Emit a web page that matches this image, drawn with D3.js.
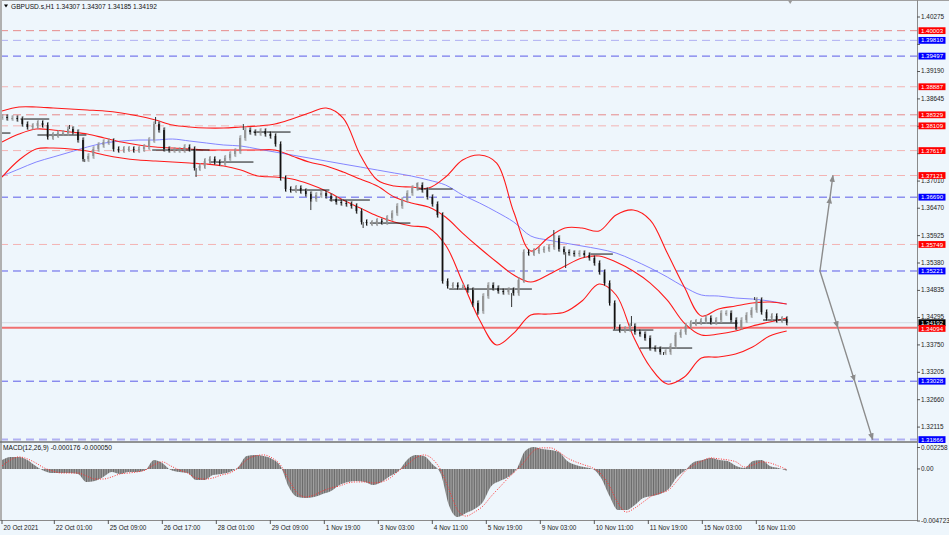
<!DOCTYPE html>
<html><head><meta charset="utf-8">
<script src="https://cdn.jsdelivr.net/npm/d3@7"></script>
<style>
html,body{margin:0;padding:0;background:#eef6fc;overflow:hidden;}
svg{display:block;font-family:"Liberation Sans",Arial,sans-serif;}
</style></head><body>
<svg id="c" width="949" height="535"></svg>
<script>
// ---------------- data ----------------
const symbolTitle = "GBPUSD.s,H1";
const headerOHLC = ["1.34307", "1.34307", "1.34185", "1.34192"];
const lastBar = 465;
const closeStep = 3; // one close every 3 hourly bars
const closes = [1.38285,1.38265,1.38265,1.38245,1.38145,1.38086,1.38106,1.38165,1.38126,1.37887,
 1.37927,1.37966,1.37966,1.38046,1.37986,1.37827,1.37449,1.37509,1.37648,1.37728,
 1.37787,1.37807,1.37648,1.37628,1.37648,1.37648,1.37628,1.37648,1.37688,1.37827,
 1.38145,1.38026,1.37648,1.37628,1.37628,1.37628,1.37688,1.37648,1.37270,1.37310,
 1.37409,1.37449,1.37389,1.37369,1.37469,1.37548,1.37608,1.37867,1.38026,1.37986,
 1.37966,1.38006,1.37946,1.37907,1.37747,1.37071,1.36852,1.36832,1.36872,1.36812,
 1.36752,1.36653,1.36733,1.36772,1.36713,1.36653,1.36593,1.36573,1.36553,1.36514,
 1.36414,1.36195,1.36175,1.36175,1.36215,1.36195,1.36275,1.36374,1.36514,1.36633,
 1.36772,1.36872,1.36932,1.36832,1.36693,1.36553,1.36335,1.35021,1.34922,1.34942,
 1.34902,1.34902,1.34842,1.34583,1.34424,1.34723,1.34942,1.34882,1.34822,1.34802,
 1.34842,1.34782,1.35041,1.35598,1.35578,1.35618,1.35638,1.35658,1.35698,1.35877,
 1.35658,1.35598,1.35578,1.35558,1.35578,1.35539,1.35479,1.35379,1.35200,1.34981,
 1.34583,1.34106,1.34046,1.34066,1.34126,1.34006,1.33966,1.33887,1.33688,1.33668,
 1.33608,1.33608,1.33728,1.33947,1.34006,1.34126,1.34185,1.34205,1.34225,1.34285,
 1.34205,1.34245,1.34384,1.34384,1.34245,1.34106,1.34245,1.34345,1.34444,1.34643,
 1.34404,1.34285,1.34325,1.34245,1.34265,1.34192];
// notable wicks: [bar, price]
const wicks = [[40,1.38126],[49,1.37389],[91,1.38285],[115,1.37091],[143,1.38145],[183,1.36434],
 [214,1.36076],[246,1.36971],[279,1.34504],[282,1.34345],[302,1.34504],[327,1.36036],[334,1.35280],
 [373,1.34325],[392,1.33549],[435,1.34046],[446,1.34703]];
// daily open segments: [fromBar, toBar, price]
const dayLines = [[0,5,1.37966],[11,28,1.38245],[21,50,1.37927],[89,123,1.37628],[123,149,1.37389],
 [149,171,1.37986],[171,194,1.36832],[194,218,1.36633],[218,242,1.36175],[246,267,1.36852],
 [265,314,1.34862],[348,362,1.35558],[362,386,1.34046],[378,409,1.33688],[409,436,1.34185],[451,465,1.34245]];
// Bollinger bands & MA, 47 points evenly spread over bars 0..465
const bbUpper = [1.38404,1.38484,1.38484,1.38464,1.38444,1.38424,1.38404,1.38364,1.38305,1.38225,
 1.38126,1.38086,1.38066,1.38066,1.38086,1.38106,1.38145,1.38245,1.38364,1.38464,
 1.38265,1.37529,1.37031,1.36912,1.36892,1.36872,1.37091,1.37429,1.37529,1.37369,
 1.36394,1.35618,1.35877,1.36076,1.36076,1.36016,1.36335,1.36434,1.36235,1.35578,
 1.34902,1.34325,1.34464,1.34524,1.34583,1.34603,1.34563];
const bbMiddle = [1.37787,1.37946,1.38046,1.38026,1.37986,1.37946,1.37867,1.37787,1.37728,1.37688,
 1.37668,1.37648,1.37628,1.37628,1.37628,1.37628,1.37628,1.37509,1.37389,1.37310,
 1.37190,1.37051,1.36912,1.36693,1.36573,1.36494,1.36295,1.35976,1.35678,1.35399,
 1.35141,1.35001,1.35141,1.35320,1.35479,1.35519,1.35399,1.35220,1.34981,1.34643,
 1.34185,1.33947,1.33966,1.34026,1.34126,1.34205,1.34285];
const bbLower = [1.37091,1.37429,1.37648,1.37668,1.37648,1.37608,1.37529,1.37469,1.37429,1.37409,
 1.37389,1.37369,1.37349,1.37310,1.37230,1.37111,1.37091,1.37051,1.36951,1.36812,
 1.36633,1.36474,1.36315,1.36195,1.36116,1.36076,1.35738,1.35001,1.34245,1.33748,
 1.33986,1.34345,1.34364,1.34404,1.34623,1.34961,1.34743,1.33927,1.33310,1.32971,
 1.33111,1.33489,1.33509,1.33568,1.33708,1.33927,1.34026];
const maLine = [1.37111,1.37250,1.37389,1.37489,1.37588,1.37688,1.37767,1.37807,1.37827,1.37827,
 1.37847,1.37807,1.37767,1.37728,1.37708,1.37648,1.37588,1.37529,1.37469,1.37409,
 1.37349,1.37290,1.37230,1.37170,1.37111,1.37031,1.36932,1.36733,1.36573,1.36394,
 1.36195,1.35917,1.35837,1.35777,1.35718,1.35658,1.35578,1.35439,1.35280,1.35101,
 1.34902,1.34743,1.34723,1.34683,1.34663,1.34623,1.34563];
// MACD, one value every 5 bars
const macdStep = 5;
const macdMain = [0.00087,0.00116,0.00116,0.00087,0.00029,-0.00019,-0.00039,-0.00039,-0.00039,-0.00048,
 -0.00125,-0.00116,-0.00077,-0.00029,-0.00048,-0.00029,-0.00029,-0.0001,0.00087,0.00058,
 -0.0001,-0.00029,-0.00039,-0.00106,-0.00106,-0.00058,-0.00048,-0.00029,0.00019,0.00125,
 0.00135,0.00125,0.00097,0.00029,-0.00174,-0.0027,-0.0028,-0.0027,-0.00241,-0.00212,
 -0.00154,-0.00125,-0.00116,-0.00125,-0.00154,-0.00125,-0.00068,-0.00019,0.00087,0.00135,
 0.00125,0.00048,-0.00048,-0.00357,-0.00463,-0.00425,-0.00386,-0.00318,-0.00164,-0.00116,
 -0.00077,0,0.00174,0.00212,0.00193,0.00183,0.00164,0.00077,0.00039,0.00019,
 0,-0.00087,-0.00261,-0.00396,-0.00396,-0.00347,-0.0028,-0.00261,-0.00241,-0.00193,
 -0.00077,-0.0001,0.00068,0.00087,0.00106,0.00087,0.00077,0.00029,0.0001,0.00077,
 0.00087,0.00029,0.0001,-0.000176];
const macdSignal = [0.00029,0.00087,0.00116,0.00097,0.00058,0.0001,-0.00019,-0.00039,-0.00039,-0.00039,
 -0.00068,-0.00097,-0.00097,-0.00077,-0.00048,-0.00039,-0.00029,-0.0001,0.00039,0.00068,
 0.00029,-0.0001,-0.00039,-0.00087,-0.00097,-0.00087,-0.00058,-0.00039,0.0001,0.00087,
 0.00125,0.00135,0.00106,0.00039,-0.00106,-0.00232,-0.0027,-0.00251,-0.00212,-0.00183,
 -0.00164,-0.00135,-0.00125,-0.00125,-0.00135,-0.00125,-0.00087,-0.00019,0.00039,0.00106,
 0.00135,0.00097,-0.0001,-0.00203,-0.00396,-0.00454,-0.00415,-0.00357,-0.00261,-0.00174,
 -0.00087,-0.0001,0.00077,0.00174,0.00203,0.00203,0.00164,0.00106,0.00068,0.00039,
 0.0001,-0.00048,-0.00164,-0.00328,-0.00415,-0.00376,-0.00318,-0.00261,-0.00232,-0.00203,
 -0.00116,-0.00019,0.00039,0.00077,0.00106,0.00097,0.00087,0.00068,0.00019,0.00039,
 0.00068,0.00058,0.00029,-0.00005];
const macdLabel = "MACD(12,26,9) -0.000176 -0.000050";
// horizontal levels
const levelPrices = [1.40003,1.39810,1.39497,1.38887,1.38329,1.38109,1.37617,1.37121,1.36690,1.35749,1.35221,1.34094,1.33028,1.31866];
const levelSide   = ["r","b","b","r","r","r","r","r","b","r","b","r","b","b"];
const bidPrice = 1.34192;
// axis ticks (labels hidden behind level tags are left out)
const priceTicks = [1.40275,1.39730,1.39190,1.38645,1.38100,1.37555,1.37010,1.36470,1.35925,1.35380,1.34835,1.34295,1.33750,1.33205,1.32660,1.32115];
const hiddenTickLabels = [1.39730,1.38100,1.37555];
const macdTicks = [0.002258, 0, -0.004723];
const macdTickLabels = ["0.002258","0.00","-0.004723"];
const timeTickBars = [0,31,63,95,127,159,191,223,255,287,319,351,383,415,447];
const timeTickLabels = ["20 Oct 2021","22 Oct 01:00","25 Oct 09:00","26 Oct 17:00","28 Oct 01:00","29 Oct 09:00","1 Nov 19:00","3 Nov 03:00","4 Nov 11:00","5 Nov 19:00","9 Nov 03:00","10 Nov 11:00","11 Nov 19:00","15 Nov 03:00","16 Nov 11:00"];
// projection arrows: vertices [bar, price]
const arrowPaths = [
  [[484.7,1.35221],[490.7,1.36690],[492.4,1.37121]],
  [[484.7,1.35221],[495.3,1.34094],[505.3,1.33028],[516,1.31866]]
];

// ---------------- drawing ----------------
const svg = d3.select("#c");
const plotRight = 917, mainTop = 2, mainBottom = 441, macdTop = 443, macdBottom = 520;
const x = d3.scaleLinear().domain([0, lastBar]).range([2, 2 + lastBar * 1.6875]);
const y = d3.scaleLinear().domain([1.31866, 1.40275]).range([439.6, 17]);
const ym = d3.scaleLinear().domain([-0.004723, 0.002258]).range([518, 445.5]);

svg.append("rect").attr("width",949).attr("height",535).attr("fill","#eef6fc");
const defs = svg.append("defs");
defs.append("clipPath").attr("id","mainClip").append("rect").attr("x",0).attr("y",mainTop).attr("width",plotRight).attr("height",mainBottom-mainTop);
defs.append("clipPath").attr("id","macdClip").append("rect").attr("x",0).attr("y",macdTop).attr("width",plotRight).attr("height",macdBottom-macdTop);
const pat = defs.append("pattern").attr("id","hist").attr("patternUnits","userSpaceOnUse").attr("width",1.6875).attr("height",10);
pat.append("rect").attr("width",1.6875).attr("height",10).attr("fill","#b0b0b0");
pat.append("rect").attr("width",1).attr("height",10).attr("fill","#6a6a6a");

const main = svg.append("g").attr("clip-path","url(#mainClip)");

// levels
const levelTone = (p,i) => {
  if (p === 1.34094) return "#f07070";
  if (levelSide[i] === "r") return (p === 1.38329 || p === 1.40003) ? "#e68a8a" : "#f3b3b3";
  if (p === 1.39810 || p === 1.31866) return "#b0b0f2";
  return "#5c5ce8";
};
main.append("line").attr("x1",0).attr("x2",plotRight).attr("y1",y(bidPrice)).attr("y2",y(bidPrice))
  .attr("stroke","#d4dbe2").attr("stroke-width",1);
levelPrices.forEach((p,i)=>{
  const solid = p === 1.34094;
  main.append("line").attr("x1",0).attr("x2",plotRight).attr("y1",y(p)).attr("y2",y(p))
    .attr("stroke",levelTone(p,i)).attr("stroke-width", solid ? 2 : (p===1.31866?2:1))
    .attr("stroke-dasharray", solid ? null : "8,5");
});

// bands and MA
const bandX = j => x(j * lastBar / (bbUpper.length - 1));
const bandLine = d3.line().x((d,j)=>bandX(j)).y(d=>y(d)).curve(d3.curveCatmullRom.alpha(0.5));
main.append("path").attr("d",bandLine(maLine)).attr("fill","none").attr("stroke","#7878ff").attr("stroke-width",0.9);
[bbUpper,bbMiddle,bbLower].forEach(a=>{
  main.append("path").attr("d",bandLine(a)).attr("fill","none").attr("stroke","#ff1a1a").attr("stroke-width",1.1);
});

// day lines
main.selectAll(".day").data(dayLines).join("line")
  .attr("x1",d=>x(d[0])).attr("x2",d=>x(d[1])).attr("y1",d=>y(d[2])).attr("y2",d=>y(d[2]))
  .attr("stroke","#111").attr("stroke-width",1);

// wicks
main.selectAll(".wk").data(wicks).join("line")
  .attr("x1",d=>x(d[0])).attr("x2",d=>x(d[0]))
  .attr("y1",d=>y(closes[Math.min(closes.length-1,Math.round(d[0]/closeStep))]))
  .attr("y2",d=>y(d[1])).attr("stroke","#333").attr("stroke-width",1);

// candles
closes.forEach((c,k)=>{
  const o = k ? closes[k-1] : c;
  const cx = x(k*closeStep);
  const top = y(Math.max(o,c)), bot = y(Math.min(o,c));
  const up = c >= o;
  const col = up ? "#8f8f8f" : "#111";
  main.append("line").attr("x1",cx+0.9).attr("x2",cx+0.9).attr("y1",top-3).attr("y2",bot+3).attr("stroke","#9a9a9a").attr("stroke-width",0.8);
  main.append("line").attr("x1",cx).attr("x2",cx).attr("y1",top-2.5).attr("y2",bot+2.5).attr("stroke",col).attr("stroke-width",1);
  main.append("rect").attr("x",cx-0.8).attr("width",1.6).attr("y",top).attr("height",Math.max(1,bot-top)).attr("fill",col);
});

// arrows
const mk = defs.append("marker").attr("id","ah").attr("viewBox","0 0 10 10").attr("refX",9).attr("refY",5)
  .attr("markerWidth",5).attr("markerHeight",5).attr("orient","auto");
mk.append("path").attr("d","M0,1 L10,5 L0,9 Z").attr("fill","#8c8c8c");
const arrowLine = d3.line().x(d=>x(d[0])).y(d=>y(d[1]));
svg.selectAll(".arr").data(arrowPaths).join("path")
  .attr("d",d=>arrowLine(d)).attr("fill","none")
  .attr("stroke","#8c8c8c").attr("stroke-width",1.4)
  .attr("marker-mid","url(#ah)").attr("marker-end","url(#ah)");

// MACD panel
const mg = svg.append("g").attr("clip-path","url(#macdClip)");
const mX = i => x(i*macdStep);
mg.append("path").attr("d", d3.area().x((d,i)=>mX(i)).y0(ym(0)).y1(d=>ym(d)).curve(d3.curveMonotoneX)(macdMain))
  .attr("fill","url(#hist)");
mg.append("path").attr("d", d3.line().x((d,i)=>mX(i)).y(d=>ym(d)).curve(d3.curveMonotoneX)(macdSignal))
  .attr("fill","none").attr("stroke","#ff3030").attr("stroke-width",1).attr("stroke-dasharray","1,1.5");

// frames
svg.append("rect").attr("x",0).attr("y",0).attr("width",949).attr("height",1).attr("fill","#a0a0a0");
svg.append("rect").attr("x",0).attr("y",0).attr("width",2).attr("height",macdBottom).attr("fill","#b0b0b0");
svg.append("line").attr("x1",plotRight+0.5).attr("x2",plotRight+0.5).attr("y1",0).attr("y2",macdBottom).attr("stroke","#8a8a8a");
svg.append("line").attr("x1",0).attr("x2",plotRight).attr("y1",442).attr("y2",442).attr("stroke","#707070").attr("stroke-width",1.6);
svg.append("line").attr("x1",0).attr("x2",plotRight+1).attr("y1",macdBottom+0.5).attr("y2",macdBottom+0.5).attr("stroke","#8a8a8a");
// chart shift marker
svg.append("path").attr("d",`M${x(lastBar)+1},0 L${x(lastBar)+6},0 L${x(lastBar)+3.5},4 Z`).attr("fill","#9a9a9a");

// header
svg.append("path").attr("d","M4,4.5 L8,4.5 L6,7.5 Z").attr("fill","#000");
svg.append("text").attr("x",11).attr("y",9).attr("font-size",6.6).attr("fill","#111")
  .text(symbolTitle + "  " + headerOHLC.join(" "));
svg.append("text").attr("x",3).attr("y",450).attr("font-size",6.6).attr("fill","#111").text(macdLabel);

// price axis
const ax = svg.append("g").attr("font-size",6.4).attr("fill","#222");
priceTicks.forEach(p=>{
  ax.append("line").attr("x1",plotRight).attr("x2",plotRight+3).attr("y1",y(p)).attr("y2",y(p)).attr("stroke","#555");
  if (!hiddenTickLabels.includes(p)) ax.append("text").attr("x",921).attr("y",y(p)+1.9).text(p.toFixed(5));
});
macdTicks.forEach((v,i)=>{
  const yy = ym(v) + (i===0?2:(i===2?3:0));
  ax.append("line").attr("x1",plotRight).attr("x2",plotRight+3).attr("y1",yy).attr("y2",yy).attr("stroke","#555");
  ax.append("text").attr("x",921).attr("y",yy+2.3).text(macdTickLabels[i]);
});
// price tags
const lab = (p, fill, dy) => {
  const yy = y(p) + dy;
  ax.append("rect").attr("x",918.5).attr("y",yy-3.4).attr("width",27).attr("height",6.8).attr("fill",fill);
  ax.append("text").attr("x",921).attr("y",yy+2.1).attr("fill","#fff").attr("font-size",6.1).text(p.toFixed(5));
};
lab(bidPrice,"#000",0);
levelPrices.forEach((p,i)=>lab(p, levelSide[i]==="r" ? "#ff0000" : "#0000ff", p===1.34094 ? 0.8 : 0));

// time axis
const tx = svg.append("g").attr("font-size",6.4).attr("fill","#222");
timeTickBars.forEach((b,i)=>{
  tx.append("line").attr("x1",x(b)).attr("x2",x(b)).attr("y1",macdBottom).attr("y2",macdBottom+4).attr("stroke","#555");
  tx.append("text").attr("x",x(b)+1.5).attr("y",530).text(timeTickLabels[i]);
});
</script>
</body></html>
